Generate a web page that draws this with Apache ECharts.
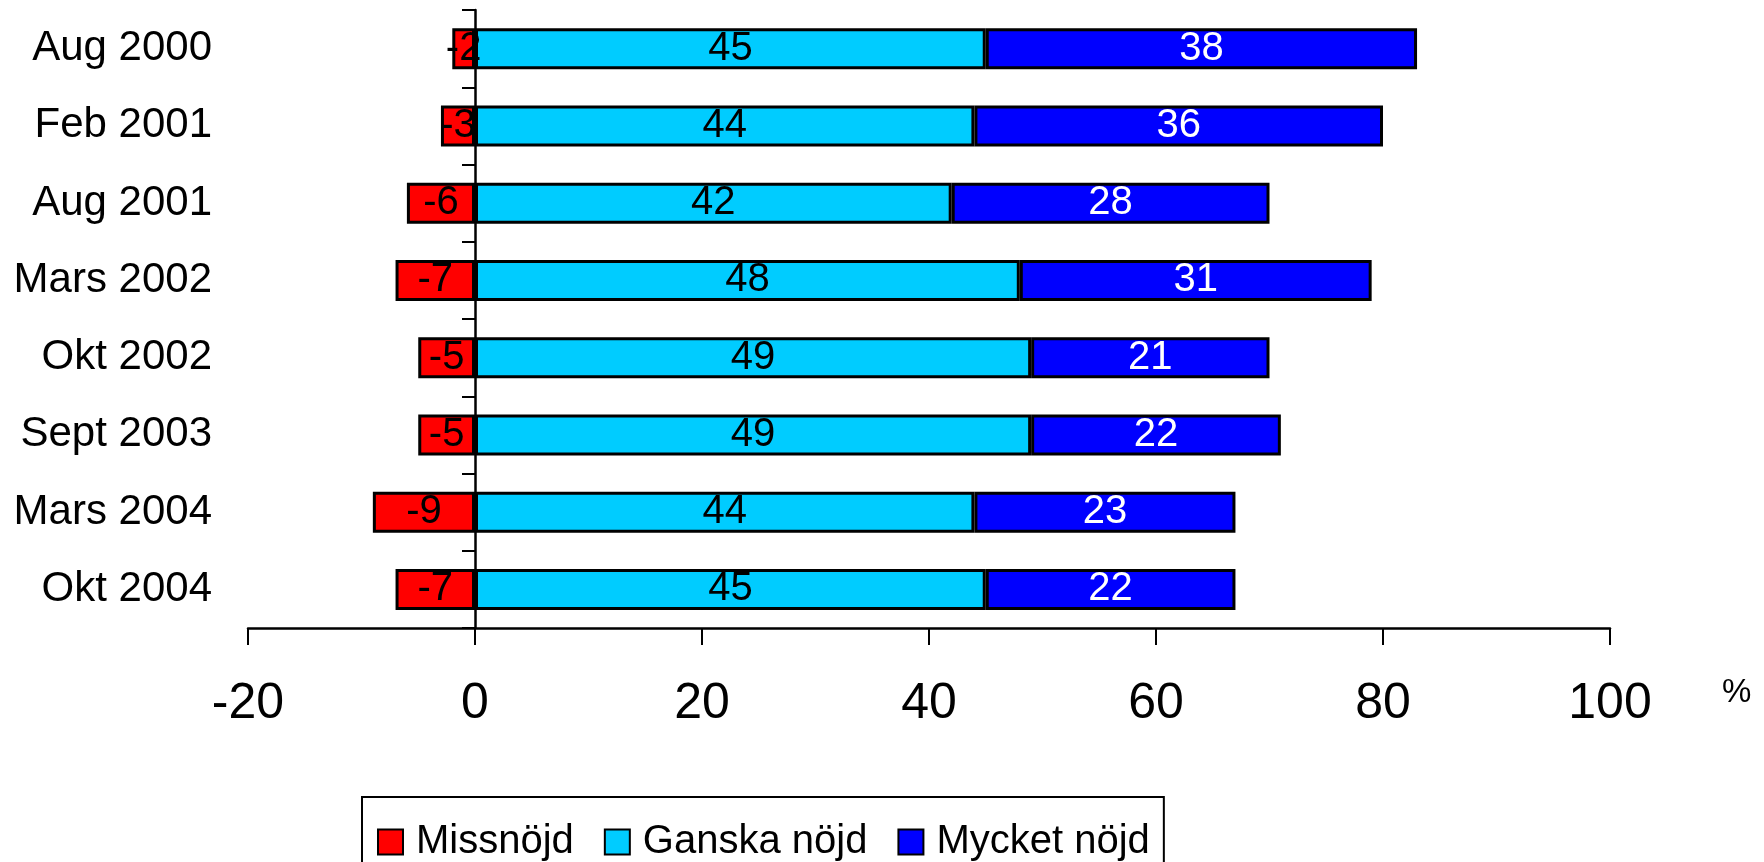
<!DOCTYPE html>
<html>
<head>
<meta charset="utf-8">
<script src="https://cdn.jsdelivr.net/npm/echarts@6/dist/echarts.min.js"></script>
<style>
  html, body { margin: 0; padding: 0; background: #fff; }
  #chart { width: 1764px; height: 862px; }
</style>
</head>
<body>
<div id="chart"></div>
<script>
var categories = ['Aug 2000', 'Feb 2001', 'Aug 2001', 'Mars 2002', 'Okt 2002', 'Sept 2003', 'Mars 2004', 'Okt 2004'];
var missnojd = [-2, -3, -6, -7, -5, -5, -9, -7];
var ganska = [45, 44, 42, 48, 49, 49, 44, 45];
var mycket = [38, 36, 28, 31, 21, 22, 23, 22];
var xTicks = [-20, 0, 20, 40, 60, 80, 100];

var font = 'Liberation Sans, Arial, sans-serif';

function bar(name, data, color, labelColor) {
    return {
        name: name,
        type: 'bar',
        stack: 'total',
        yAxisIndex: 0,
        barWidth: 41,
        data: data,
        itemStyle: {
            color: color,
            borderColor: '#000',
            borderWidth: 3
        },
        label: {
            show: true,
            position: 'inside',
            color: labelColor,
            fontSize: 40,
            fontFamily: font
        }
    };
}

var myChart = echarts.init(document.getElementById('chart'));
myChart.setOption({
    animation: false,
    backgroundColor: '#fff',
    grid: {
        left: 248,
        right: 154,
        top: 10,
        bottom: 234
    },
    legend: {
        left: 362,
        top: 797,
        padding: [25, 14, 25, 15],
        borderColor: '#000',
        borderWidth: 2,
        itemGap: 30,
        itemWidth: 25,
        itemHeight: 25,
        icon: 'rect',
        textStyle: {
            fontSize: 40,
            fontFamily: font,
            color: '#000',
            padding: [0, 0, 0, 8]
        },
        data: ['Missnöjd', 'Ganska nöjd', 'Mycket nöjd']
    },
    xAxis: {
        type: 'value',
        min: xTicks[0],
        max: xTicks[xTicks.length - 1],
        interval: 20,
        name: '%',
        nameLocation: 'end',
        nameGap: 112,
        nameTextStyle: {
            fontSize: 33,
            fontFamily: font,
            color: '#000',
            verticalAlign: 'top',
            padding: [48, 0, 0, 0]
        },
        splitLine: { show: false },
        axisLine: { show: true, onZero: false, lineStyle: { color: '#000', width: 2.5 } },
        axisTick: { show: true, length: 17, lineStyle: { color: '#000', width: 2 } },
        axisLabel: {
            fontSize: 50,
            fontFamily: font,
            color: '#000',
            margin: 51
        }
    },
    yAxis: [{
        // category names, kept at the left edge of the grid
        type: 'category',
        inverse: true,
        position: 'left',
        data: categories,
        axisLine: { show: false, onZero: false },
        axisTick: { show: false },
        axisLabel: {
            fontSize: 42,
            fontFamily: font,
            color: '#000',
            margin: 36
        }
    }, {
        // the line and ticks at x = 0
        type: 'category',
        inverse: true,
        position: 'left',
        data: categories,
        axisLine: { show: true, onZero: true, lineStyle: { color: '#000', width: 2.5 } },
        axisTick: { show: true, interval: 0, length: 13, inside: false, lineStyle: { color: '#000', width: 2 } },
        axisLabel: { show: false }
    }],
    series: [
        bar('Missnöjd', missnojd, '#ff0000', '#000'),
        bar('Ganska nöjd', ganska, '#00ccff', '#000'),
        bar('Mycket nöjd', mycket, '#0000ff', '#fff')
    ]
});
</script>
</body>
</html>
